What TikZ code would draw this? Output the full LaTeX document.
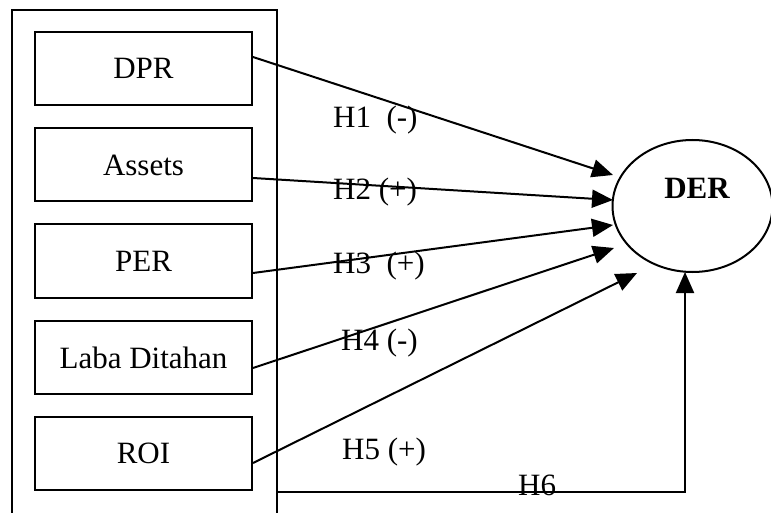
\documentclass[tikz,border=0pt]{standalone}
\usepackage{fontspec}
\setmainfont{Liberation Serif}
\usetikzlibrary{arrows.meta,calc}
\begin{document}
\begin{tikzpicture}[x=1pt,y=-1pt,
  every node/.style={font=\fontsize{31}{36}\selectfont},
  varbox/.style={draw,line width=2pt,minimum width=217pt,minimum height=73pt,inner sep=0pt},
  lbl/.style={anchor=base west,inner sep=0pt},
  conn/.style={line width=2pt,-{Triangle[length=21pt,width=18pt]}},
  ]
\useasboundingbox (0,0) rectangle (771,513);
\fill[white] (0,0) rectangle (771,513);
\clip (0,0) rectangle (771,513);
% outer frame (open past the bottom edge)
\node[draw,line width=2pt,minimum width=265pt,minimum height=540pt,inner sep=0pt,anchor=north west] (frame) at (11,9) {};
% variable boxes
\node[varbox] (dpr) at (143.5,68.5) {DPR};
\node[varbox] (assets) at (143.5,165) {Assets};
\node[varbox] (per) at (143.5,261) {PER};
\node[varbox] (laba) at (143.5,357.5) {Laba Ditahan};
\node[varbox] (roi) at (143.5,453.5) {ROI};
% DER ellipse
\draw[line width=2pt] (692.5,206) ellipse [x radius=80, y radius=66];
\node[inner sep=0pt,font=\fontsize{31}{36}\selectfont\bfseries] (der) at (697,188) {DER};
% arrow tips
\coordinate (t1) at (613,175);
\coordinate (t2) at (613,200);
\coordinate (t3) at (613,225);
\coordinate (t4) at (614,248);
\coordinate (t5) at (637,273);
\coordinate (h6s) at (276,492);
\coordinate (t6) at (685,272);
% connectors
\draw[conn] ([yshift=11.5pt]dpr.east) -- (t1);
\draw[conn] ([yshift=-13pt]assets.east) -- (t2);
\draw[conn] ([yshift=-12pt]per.east) -- (t3);
\draw[conn] ([yshift=-10.5pt]laba.east) -- (t4);
\draw[conn] ([yshift=-9.5pt]roi.east) -- (t5);
\draw[conn] (h6s) -| (t6);
% labels
\node[lbl] (l1) at (333,128) {H1\ \ (-)};
\node[lbl] (l2) at (333,200) {H2 (+)};
\node[lbl] (l3) at (333,273) {H3\ \ (+)};
\node[lbl] (l4) at (341,350) {H4 (-)};
\node[lbl] (l5) at (342,459) {H5 (+)};
\node[lbl] (l6) at (518,495) {H6};
\end{tikzpicture}
\end{document}
